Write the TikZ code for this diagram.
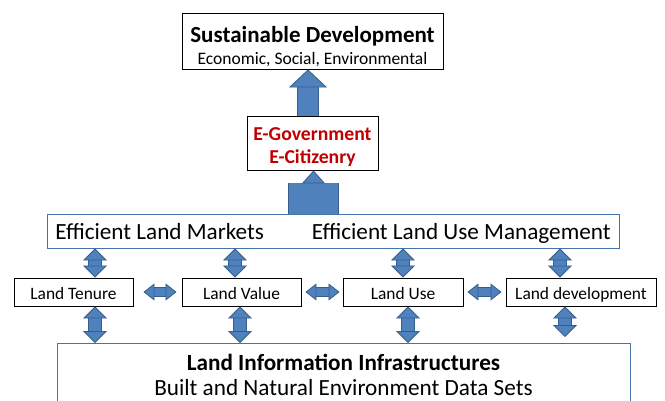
\documentclass[tikz,border=0pt]{standalone}
\usepackage{fontspec}
\setmainfont{Carlito}
\usetikzlibrary{arrows.meta,positioning}
\definecolor{arrowfill}{RGB}{79,129,189}
\definecolor{arrowline}{RGB}{56,93,138}
\definecolor{bandline}{RGB}{68,114,170}
\definecolor{egred}{RGB}{192,0,0}
\tikzset{
  vtip/.tip={Triangle[length=12pt,width=24pt,color=arrowline,fill=arrowfill,line width=0.8pt]},
  htip/.tip={Triangle[length=11pt,width=17pt,color=arrowline,fill=arrowfill,line width=0.8pt]},
  utip/.tip={Triangle[length=18pt,width=38pt,color=arrowline,fill=arrowfill,line width=0.8pt]},
  btip/.tip={Triangle[length=13pt,width=23pt,color=arrowline,fill=arrowfill,line width=0.8pt]},
  vlink/.style={draw=arrowfill,line width=12pt,vtip-vtip,
    preaction={draw=arrowline,line width=13.6pt,-,shorten <=10pt,shorten >=10pt}},
  hlink/.style={draw=arrowfill,line width=8pt,htip-htip,
    preaction={draw=arrowline,line width=9.6pt,-,shorten <=9pt,shorten >=9pt}},
  uplink/.style={draw=arrowfill,line width=20pt,-utip,
    preaction={draw=arrowline,line width=21.6pt,-,shorten >=16pt}},
  biglink/.style={draw=arrowfill,line width=49pt,-btip,
    preaction={draw=arrowline,line width=50.6pt,-,shorten >=13pt}},
  landbox/.style={draw,line width=0.9pt,minimum height=28pt,inner sep=0pt,text height=14pt,text depth=0pt,
    font=\fontsize{17.4}{20}\selectfont},
}
\begin{document}
\begin{tikzpicture}[x=1pt,y=-1pt]
\useasboundingbox (0,0) rectangle (665,401);
\clip (0,0) rectangle (665,401);
% top boxes
\node[draw,line width=0.9pt,minimum width=261pt,minimum height=56pt,inner sep=0pt,align=center,
  font=\fontsize{17.5}{22}\selectfont] (sd) at (312.5,41)
  {\rule{0pt}{27.5pt}{\fontsize{23}{22}\selectfont\bfseries Sustainable Development}\\Economic, Social, Environmental};
\node[draw,line width=0.9pt,minimum width=131pt,minimum height=54pt,inner sep=0pt,align=center,
  text=egred,font=\fontsize{19.7}{23}\selectfont\bfseries] (egov) at (312.5,143)
  {\rule{0pt}{21pt}E-Government\\E-Citizenry};
\node[draw=bandline,line width=0.9pt,minimum width=572pt,minimum height=34pt,inner sep=0pt,
  text height=17pt,text depth=0pt,font=\fontsize{23.2}{26}\selectfont] (band) at (333,231)
  {Efficient Land Markets\hspace{48pt}Efficient Land Use Management};
% land boxes
\node[landbox,minimum width=119pt] (tenure) at (73.5,292) {Land Tenure};
\node[landbox,minimum width=119pt] (value) at (241.5,292) {Land Value};
\node[landbox,minimum width=120pt] (use) at (403,292) {Land Use};
\node[landbox,minimum width=150pt] (dev) at (581,292) {Land development};
\node[draw=bandline,line width=0.9pt,minimum width=573pt,anchor=north,inner ysep=10.5pt,align=center,
  font=\fontsize{23.2}{25}\selectfont] (lii) at (343.5,343)
  {{\bfseries Land Information Infrastructures}\\Built and Natural Environment Data Sets};
% arrows
\draw[uplink] (egov.north) ++(-4.5,0) coordinate (e1) -- (e1 |- sd.south);
\draw[biglink] (band.north -| egov.south) ++(1,0) coordinate (b1) -- (b1 |- egov.south);
\draw[vlink] (tenure.north) ++(21.5,0) coordinate (t1) -- (t1 |- band.south);
\draw[vlink] (value.north) ++(-6.5,0) coordinate (v1) -- (v1 |- band.south);
\draw[vlink] (use.north) coordinate (u1) -- (u1 |- band.south);
\draw[vlink] (dev.north) ++(-21,0) coordinate (d1) -- (d1 |- band.south);
\draw[vlink] (tenure.south) ++(21.5,0) coordinate (t2) -- (t2 |- lii.north);
\draw[vlink] (value.south) ++(-1.5,0) coordinate (v2) -- (v2 |- lii.north);
\draw[vlink] (use.south) ++(5,0) coordinate (u2) -- (u2 |- lii.north);
\path (dev.south) ++(-16,0) coordinate (d2) (d2 |- lii.north) ++(0,-6) coordinate (d3);
\draw[vlink] (d2) -- (d3);
\draw[hlink] ([xshift=10pt]tenure.east) -- ([xshift=-5pt]value.west);
\draw[hlink] ([xshift=4pt]value.east) -- ([xshift=-3pt]use.west);
\draw[hlink] ([xshift=4pt]use.east) -- ([xshift=-4pt]dev.west);
\end{tikzpicture}
\end{document}
